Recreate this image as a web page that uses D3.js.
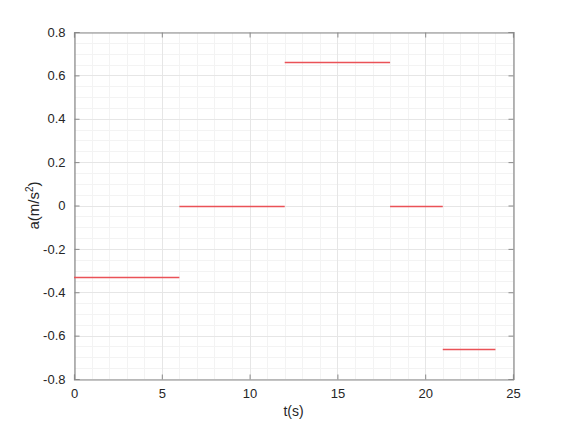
<!DOCTYPE html>
<html><head><meta charset="utf-8">
<script src="https://cdn.jsdelivr.net/npm/d3@7"></script>
<style>body{margin:0;background:#fff}svg{display:block}text{font-family:"Liberation Sans",Arial,sans-serif;fill:#262626}</style>
</head><body><svg id="c" width="566" height="426"></svg>
<script>
const segStart = [0, 6, 12, 18, 21];
const segEnd   = [6, 12, 18, 21, 24];
const accel    = [-0.33, 0, 0.66, 0, -0.66];
const xTicks = [0, 5, 10, 15, 20, 25];
const yTicks = [-0.8, -0.6, -0.4, -0.2, 0, 0.2, 0.4, 0.6, 0.8];
const xLabel = "t(s)";

const m = {l:74, r:513, t:32, b:379};
const svg = d3.select("#c");
const x = d3.scaleLinear().domain([0,25]).range([m.l, m.r]);
const y = d3.scaleLinear().domain([-0.8,0.8]).range([m.b, m.t]);

// minor grid
const xMinor = d3.range(0, 25.001, 1), yMinor = d3.range(-0.8, 0.8001, 0.05);
const g = svg.append("g");
g.selectAll("line.xm").data(xMinor).enter().append("line").attr("class","xm")
  .attr("x1", d=>Math.round(x(d))+0.5).attr("x2", d=>Math.round(x(d))+0.5).attr("y1", m.t).attr("y2", m.b)
  .attr("stroke", "#f3f3f3").attr("stroke-width", 1);
g.selectAll("line.ym").data(yMinor).enter().append("line").attr("class","ym")
  .attr("y1", d=>Math.round(y(d))+0.5).attr("y2", d=>Math.round(y(d))+0.5).attr("x1", m.l).attr("x2", m.r)
  .attr("stroke", "#f3f3f3").attr("stroke-width", 1);
// major grid
g.selectAll("line.xg").data(xTicks).enter().append("line").attr("class","xg")
  .attr("x1", d=>Math.round(x(d))+0.5).attr("x2", d=>Math.round(x(d))+0.5).attr("y1", m.t).attr("y2", m.b)
  .attr("stroke", "#e6e6e6").attr("stroke-width", 1);
g.selectAll("line.yg").data(yTicks).enter().append("line").attr("class","yg")
  .attr("y1", d=>Math.round(y(d))+0.5).attr("y2", d=>Math.round(y(d))+0.5).attr("x1", m.l).attr("x2", m.r)
  .attr("stroke", "#e6e6e6").attr("stroke-width", 1);

// axes
const ac = "#8a8a8a";
const fmtY = d => d===0 ? "0" : d3.format(".1f")(d).replace("\u2212","-");
const xb = svg.append("g").attr("transform", `translate(0,${m.b+0.5})`)
  .call(d3.axisBottom(x).tickValues(xTicks).tickSize(-5).tickPadding(9).tickFormat(d3.format("d")));
const xt = svg.append("g").attr("transform", `translate(0,${m.t+0.5})`)
  .call(d3.axisTop(x).tickValues(xTicks).tickSize(-5).tickFormat(""));
const yl = svg.append("g").attr("transform", `translate(${m.l+0.5},0)`)
  .call(d3.axisLeft(y).tickValues(yTicks).tickSize(-5).tickPadding(9).tickFormat(fmtY));
const yr = svg.append("g").attr("transform", `translate(${m.r+0.5},0)`)
  .call(d3.axisRight(y).tickValues(yTicks).tickSize(-5).tickFormat(""));
[xb,xt,yl,yr].forEach(a=>{
  a.select(".domain").attr("stroke", ac).attr("stroke-width",1.2);
  a.selectAll(".tick line").attr("stroke", ac);
  a.selectAll("text").attr("font-size", 13).attr("font-family", '"Liberation Sans",Arial,sans-serif').attr("fill","#262626");
});

// data (drawn last, on top)
svg.append("g").attr("class","segs").selectAll("line.seg").data(accel).enter().append("line").attr("class","seg")
  .attr("x1", (d,i)=>x(segStart[i])).attr("x2", (d,i)=>x(segEnd[i]))
  .attr("y1", d=>Math.round(y(d))+0.5).attr("y2", d=>Math.round(y(d))+0.5)
  .style("stroke", "#ea5257").style("stroke-width", "1.3px");

svg.append("text").attr("x", (m.l+m.r)/2).attr("y", 416).attr("text-anchor","middle")
  .attr("font-size", 14).text(xLabel);
const yt = svg.append("text").attr("transform", `translate(39,${(m.t+m.b)/2}) rotate(-90)`)
  .attr("text-anchor","middle").attr("font-size", 15);
yt.append("tspan").text("a(m/s");
yt.append("tspan").attr("font-size", 10).attr("dy", -6).text("2");
yt.append("tspan").attr("dy", 6).text(")");
</script></body></html>
